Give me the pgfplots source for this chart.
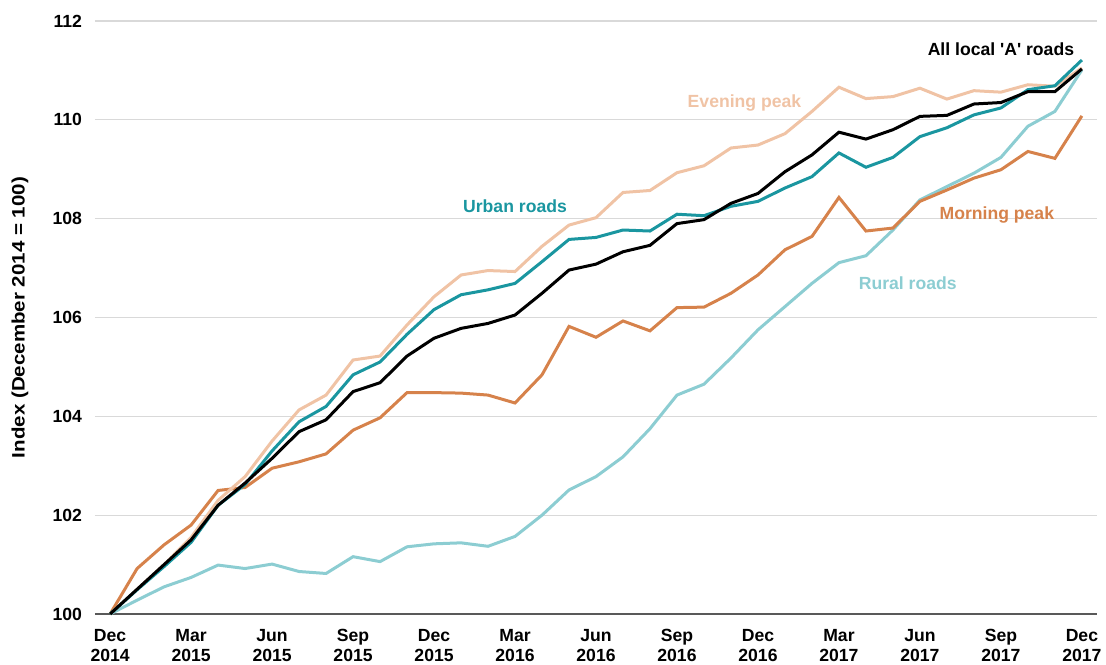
\documentclass[border=0pt]{standalone}
\usepackage{fontspec}
\setmainfont{Liberation Sans}
\usepackage{pgfplots}
\pgfplotsset{compat=1.18}

\definecolor{urban}{HTML}{1A96A0}
\definecolor{rural}{HTML}{8CCDD2}
\definecolor{morning}{HTML}{D6824B}
\definecolor{evening}{HTML}{F0C3A5}
\definecolor{gridgrey}{HTML}{D9D9D9}

\newcommand{\tl}[2]{\strut#1\\\strut#2}

% m = months since December 2014
\pgfplotstableread{
m  urban  all    evening morning rural
0  100.00 100.00 100.00  100.00  100.00
1  100.49 100.50 100.50  100.92  100.28
2  100.96 101.00 101.00  101.40  100.55
3  101.45 101.50 101.55  101.80  100.74
4  102.20 102.20 102.30  102.50  100.99
5  102.62 102.65 102.78  102.56  100.92
6  103.30 103.15 103.50  102.95  101.01
7  103.89 103.69 104.13  103.08  100.86
8  104.20 103.93 104.43  103.24  100.82
9  104.84 104.50 105.14  103.72  101.16
10 105.10 104.68 105.22  103.97  101.06
11 105.66 105.22 105.85  104.48  101.36
12 106.16 105.58 106.42  104.48  101.42
13 106.46 105.78 106.86  104.47  101.44
14 106.56 105.88 106.95  104.43  101.37
15 106.69 106.05 106.93  104.27  101.57
16 107.13 106.49 107.44  104.84  102.00
17 107.58 106.96 107.87  105.82  102.51
18 107.62 107.08 108.02  105.60  102.78
19 107.77 107.33 108.53  105.93  103.18
20 107.75 107.46 108.57  105.73  103.75
21 108.09 107.90 108.93  106.20  104.43
22 108.06 107.98 109.07  106.21  104.65
23 108.25 108.31 109.43  106.49  105.18
24 108.35 108.51 109.49  106.86  105.75
25 108.62 108.95 109.72  107.37  106.22
26 108.85 109.29 110.17  107.64  106.69
27 109.33 109.75 110.66  108.43  107.11
28 109.04 109.61 110.43  107.75  107.25
29 109.24 109.80 110.47  107.81  107.77
30 109.66 110.07 110.64  108.35  108.38
31 109.84 110.09 110.42  108.58  108.65
32 110.10 110.32 110.59  108.82  108.92
33 110.24 110.35 110.56  108.99  109.24
34 110.61 110.57 110.71  109.36  109.87
35 110.69 110.57 110.68  109.22  110.17
36 111.21 111.03 111.05  110.08  111.01
}\roads

\begin{document}
\begin{tikzpicture}
\path[use as bounding box] (0,0) rectangle (553pt,332pt);
\begin{axis}[
  at={(47.5pt,25pt)}, anchor=south west,
  width=501pt, height=296.5pt, scale only axis,
  xmin=-0.56, xmax=36.56, ymin=100, ymax=112,
  axis x line*=bottom, axis y line*=left,
  x axis line style={draw=black!65, line width=0.8pt, -},
  y axis line style={draw=none},
  major tick length=0pt,
  ymajorgrids, grid style={gridgrey, line width=0.6pt},
  ytick={100,102,...,112},
  xtick={0,3,...,36},
  xticklabels={\tl{Dec}{2014},\tl{Mar}{2015},\tl{Jun}{2015},\tl{Sep}{2015},\tl{Dec}{2015},\tl{Mar}{2016},\tl{Jun}{2016},\tl{Sep}{2016},\tl{Dec}{2016},\tl{Mar}{2017},\tl{Jun}{2017},\tl{Sep}{2017},\tl{Dec}{2017}},
  xticklabel style={align=center, font=\fontsize{8.8}{10}\selectfont\bfseries, anchor=north, yshift=-3pt},
  yticklabel style={font=\fontsize{8.8}{10}\selectfont\bfseries, xshift=-3pt},
  /pgf/number format/assume math mode=true,
  ylabel={\scalebox{1.14}[1]{Index (December 2014 = 100)}},
  every axis y label/.style={at={(axis description cs:0,0.5)}, rotate=90, anchor=center,
    yshift=37.5pt, font=\fontsize{9}{10}\selectfont\bfseries},
  clip=false,
]
\addplot[rural, line width=1.5pt] table[x=m, y=rural] {\roads};
\addplot[morning, line width=1.5pt] table[x=m, y=morning] {\roads};
\addplot[evening, line width=1.5pt] table[x=m, y=evening] {\roads};
\addplot[urban, line width=1.5pt] table[x=m, y=urban] {\roads};
\addplot[black, line width=1.5pt] table[x=m, y=all] {\roads};

\node[font=\fontsize{8.8}{10}\selectfont\bfseries, text=black] at (axis cs:33.0,111.42) {All local \textquotesingle A\textquotesingle\ roads};
\node[font=\fontsize{8.8}{10}\selectfont\bfseries, text=evening] at (axis cs:23.5,110.34) {Evening peak};
\node[font=\fontsize{8.8}{10}\selectfont\bfseries, text=urban] at (axis cs:15.0,108.26) {Urban roads};
\node[font=\fontsize{8.8}{10}\selectfont\bfseries, text=morning] at (axis cs:32.85,108.08) {Morning peak};
\node[font=\fontsize{8.8}{10}\selectfont\bfseries, text=rural] at (axis cs:29.55,106.7) {Rural roads};
\end{axis}
\end{tikzpicture}
\end{document}
